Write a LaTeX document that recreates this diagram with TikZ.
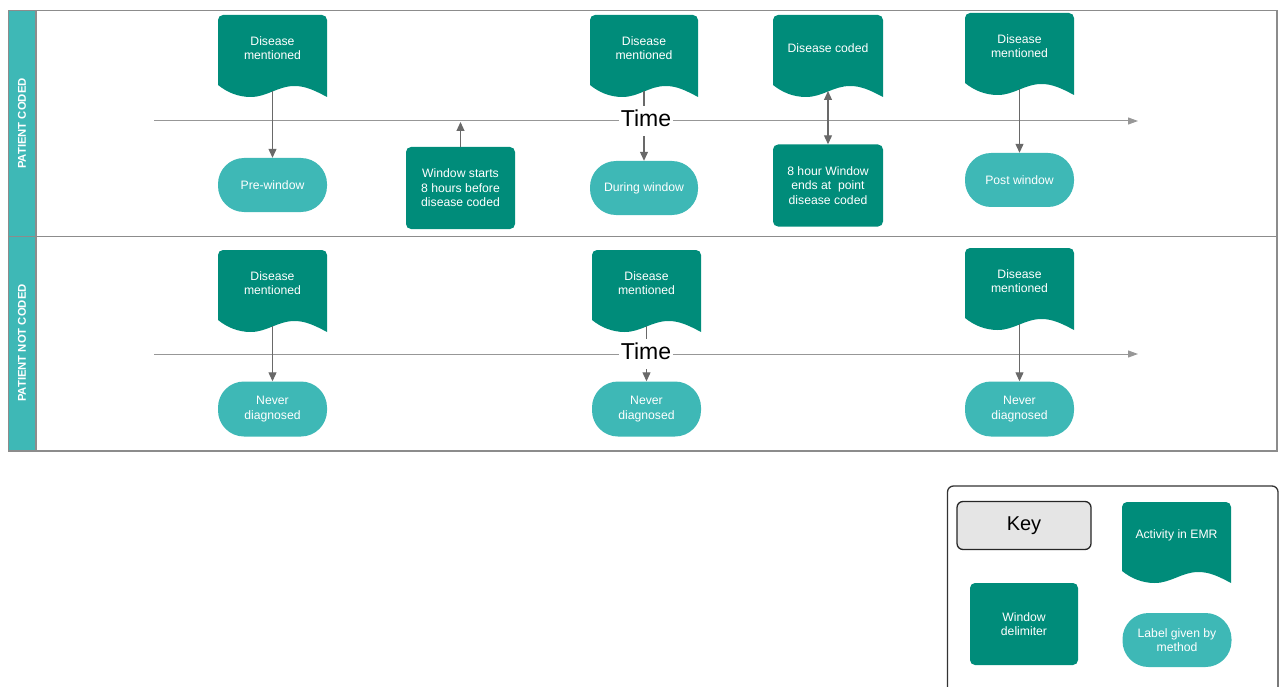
\documentclass[tikz,border=0pt]{standalone}
\usepackage{fontspec}
\setmainfont{Liberation Sans}
\usetikzlibrary{arrows.meta}
\definecolor{dkteal}{RGB}{0,140,122}
\definecolor{ltteal}{RGB}{62,184,182}
\definecolor{lanegray}{RGB}{140,140,140}
\definecolor{conngray}{RGB}{105,105,105}
\definecolor{keygray}{RGB}{229,229,229}

\newcommand\emrdoc[6]{% #1 name, #2 L, #3 T, #4 R, #5 B, #6 text
  \fill[dkteal] (#2,{-(#5-12)}) -- (#2,{-(#3+5)}) arc[start angle=180,end angle=90,radius=5] -- ({#4-5},-#3) arc[start angle=90,end angle=0,radius=5] -- (#4,-#5)
   .. controls ({#2+0.88*(#4-#2)},{-(#5-7)}) and ({#2+0.8*(#4-#2)},{-(#5-11)}) .. ({#2+0.7*(#4-#2)},{-(#5-11)})
   .. controls ({#2+0.55*(#4-#2)},{-(#5-11)}) and ({#2+0.45*(#4-#2)},-#5) .. ({#2+0.3*(#4-#2)},-#5)
   .. controls ({#2+0.18*(#4-#2)},-#5) and ({#2+0.08*(#4-#2)},{-(#5-5)}) .. (#2,{-(#5-12)}) -- cycle;
  \node[wtext] (#1) at ({(#2+#4)/2},{-(#3+33)}) {#6};
  \coordinate (#1b) at ({(#2+#4)/2},{-(#5-6)});
}

\tikzset{
  wtext/.style={text=white, font=\fontsize{12.2}{14.5}\selectfont, align=center, inner sep=0pt},
  stad/.style={fill=ltteal, rounded corners=26pt, minimum width=109pt, minimum height=54pt, text=white, font=\fontsize{12.2}{14.5}\selectfont, align=center, inner sep=2pt},
  winbox/.style={fill=dkteal, rounded corners=5pt, minimum width=109pt, minimum height=82pt, text=white, font=\fontsize{12.2}{14.5}\selectfont, align=center, inner sep=2pt},
  conn/.style={draw=conngray, line width=1.1pt, -{Triangle[length=9pt,width=8pt]}},
  conn2/.style={draw=conngray, line width=1.1pt, {Triangle[length=9pt,width=8pt]}-{Triangle[length=9pt,width=8pt]}},
  axisline/.style={draw=lanegray!90, line width=1pt, -{Triangle[length=10pt,width=7pt]}},
  timelbl/.style={fill=white, font=\fontsize{23}{26}\selectfont, text height=19pt, text depth=8pt, inner xsep=1.5pt, inner ysep=1.5pt, anchor=base},
  lane/.style={draw=lanegray, line width=1.1pt},
  hdr/.style={text=white, font=\bfseries\fontsize{11.3}{13}\selectfont, rotate=90, inner sep=0pt},
  keytitle/.style={fill=keygray, draw=black!85, line width=1.3pt, rounded corners=6pt, minimum width=134pt, minimum height=48pt, font=\fontsize{20}{24}\selectfont},
  keyframe/.style={draw=black!80, line width=1.3pt, rounded corners=6pt}
}

\begin{document}
\begin{tikzpicture}[x=1pt,y=1pt]
\useasboundingbox (0,0) rectangle (1279,-687);
\clip (0,0) rectangle (1279,-687);

% swimlanes
\fill[ltteal] (8.5,-10.5) rectangle (36,-451);
\draw[lane] (8.5,-10.5) rectangle (1277,-451);
\draw[lane] (8.5,-236.5) -- (1277,-236.5);
\draw[lane] (36,-10.5) -- (36,-451);
\node[hdr] (h1) at (22,-123.5) {PATIENT CODED};
\node[hdr] (h2) at (22,-343) {PATIENT NOT CODED};

% time axes
\coordinate (ax1s) at (154,-121);
\coordinate (ax1e) at (1138,-121);
\coordinate (ax2s) at (154,-354);
\coordinate (ax2e) at (1138,-354);
\draw[axisline] (ax1s) -- (ax1e);
\draw[axisline] (ax2s) -- (ax2e);

% lane 1
\emrdoc{d1}{218}{15}{327}{97}{Disease\\mentioned}
\emrdoc{d2}{590}{15}{698}{97}{Disease\\mentioned}
\emrdoc{d3}{773}{15}{883}{97}{Disease coded}
\emrdoc{d4}{965}{13}{1074}{95}{Disease\\mentioned}
\node[stad] (p1) at (272.5,-185) {Pre-window};
\node[stad, minimum width=108pt] (p2) at (644,-188) {During window};
\node[stad] (p3) at (1019.5,-180) {Post window};
\node[winbox] (w1) at (460.5,-188) {Window starts\\8 hours before\\disease coded};
\node[winbox, minimum width=110pt] (w2) at (828,-185.5) {8 hour Window\\ends at\ \ point\\disease coded};
\coordinate (a1) at (460.5,-122);

% lane 2
\emrdoc{d5}{218}{250}{327}{332}{Disease\\mentioned}
\emrdoc{d6}{592}{250}{701}{332}{Disease\\mentioned}
\emrdoc{d7}{965}{248}{1074}{330}{Disease\\mentioned}
\node[stad, minimum height=55pt] (n1) at (272.5,-409) {Never\\diagnosed};
\node[stad, minimum height=55pt] (n2) at (646.5,-409) {Never\\diagnosed};
\node[stad, minimum height=55pt] (n3) at (1019.5,-409) {Never\\diagnosed};

% connectors
\draw[conn] (d1b) -- (p1.north);
\draw[conn] (w1.north) -- (a1);
\draw[conn] (d2b) -- (p2.north);
\draw[conn2] (d3b) -- (w2.north);
\draw[conn] (d4b) -- (p3.north);
\draw[conn] (d5b) -- (n1.north);
\draw[conn] (d6b) -- (n2.north);
\draw[conn] (d7b) -- (n3.north);

% time labels
\node[timelbl] (t1) at (646,-126.7) {Time};
\node[timelbl] (t2) at (646,-359.3) {Time};

% key
\draw[keyframe] (947.5,-486) rectangle (1278,-700);
\node[keytitle] (key) at (1024,-525.5) {Key};
\emrdoc{dk}{1122}{502}{1231}{583}{Activity in EMR}
\node[winbox, minimum width=108pt] (wk) at (1024,-624) {Window\\delimiter};
\node[stad] (lk) at (1177,-640) {Label given by\\method};
\end{tikzpicture}
\end{document}
